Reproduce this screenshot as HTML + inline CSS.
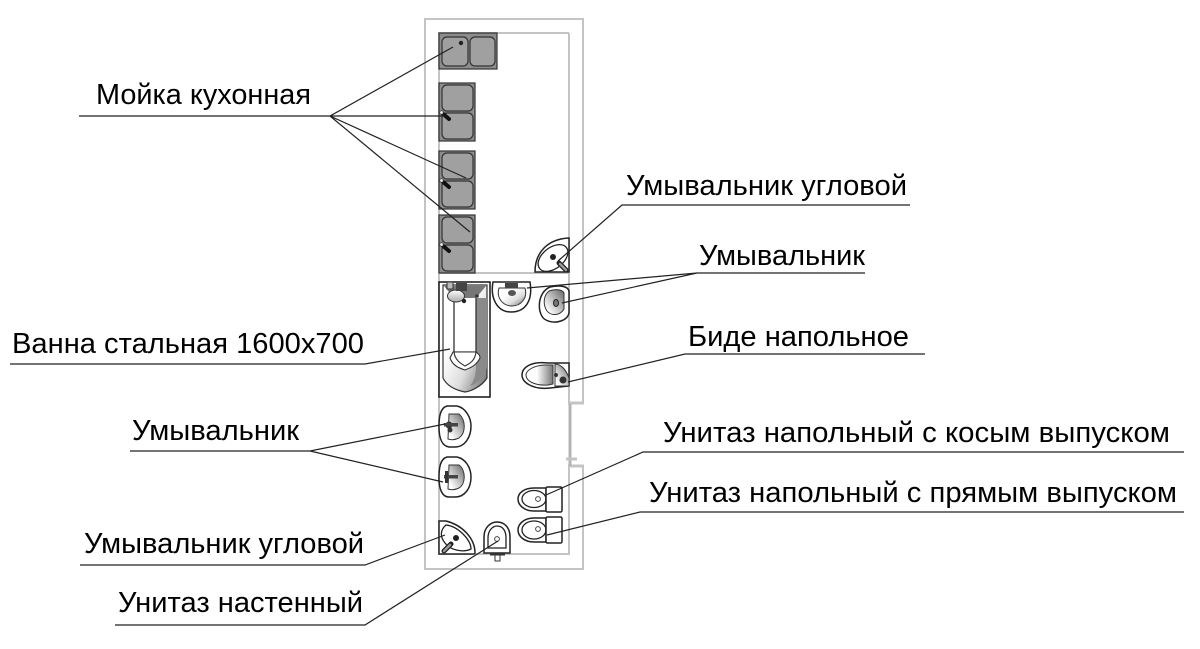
<!DOCTYPE html>
<html><head><meta charset="utf-8"><style>
html,body{margin:0;padding:0;background:#fff;width:1200px;height:649px;overflow:hidden}
svg{display:block}
text{font-family:"Liberation Sans",sans-serif;font-size:28.5px;fill:#000}
.l{stroke:#222;stroke-width:1.2;fill:none}
.w{stroke:#c4c4c4;stroke-width:2;fill:none}
.o{stroke:#222;stroke-width:1.5;fill:#fff}
.b{stroke:#222;stroke-width:1.3;fill:none}
.s{fill:#a0a0a0;stroke:#333;stroke-width:1.2}
.p{fill:#8c8c8c;stroke:#333;stroke-width:1.2}
</style></head><body>
<svg width="1200" height="649" viewBox="0 0 1200 649" xmlns="http://www.w3.org/2000/svg">
<defs>
<linearGradient id="g" x1="0" y1="0" x2="1" y2="1"><stop offset="0.35" stop-color="#fff"/><stop offset="0.65" stop-color="#ddd"/><stop offset="1" stop-color="#666"/></linearGradient>
<linearGradient id="g2" x1="1" y1="0" x2="0" y2="1"><stop offset="0" stop-color="#666"/><stop offset="0.55" stop-color="#ccc"/><stop offset="0.85" stop-color="#fff"/></linearGradient>
<linearGradient id="g3" x1="0" y1="0" x2="1" y2="0"><stop offset="0.4" stop-color="#fff"/><stop offset="1" stop-color="#777"/></linearGradient>
<linearGradient id="g4" x1="0" y1="0" x2="0" y2="1"><stop offset="0" stop-color="#fff"/><stop offset="1" stop-color="#aaa"/></linearGradient>
<g id="sink">
<rect x="0" y="0" width="36" height="58" class="p"/>
<rect x="3" y="2" width="31" height="26" rx="5" class="s"/>
<rect x="3" y="30" width="31" height="26" rx="5" class="s"/>
<line x1="3" y1="30" x2="10" y2="36" stroke="#111" stroke-width="4" stroke-linecap="round"/>
<circle cx="2.5" cy="29.5" r="1.8" fill="#eee" stroke="#444" stroke-width="0.8"/>
</g>
</defs>

<!-- walls -->
<path class="w" d="M583 403V19H425V569H583V466"/>
<path class="w" d="M569 33V404M569 466V554H439V33H569"/>
<line x1="439" y1="273" x2="569" y2="273" class="w"/>
<path d="M568 403H584M568 466H584" stroke="#c4c4c4" stroke-width="3" fill="none"/>
<line x1="570" y1="404" x2="570" y2="466" stroke="#b4b4b4" stroke-width="3"/>
<path d="M566 459H577" stroke="#c4c4c4" stroke-width="3" fill="none"/>

<!-- kitchen sinks -->
<rect x="439" y="33" width="58" height="36" class="p"/>
<rect x="442" y="37" width="26" height="29" rx="5" class="s"/>
<rect x="470" y="37" width="25" height="29" rx="5" class="s"/>
<circle cx="461" cy="43" r="2.2" fill="#222"/>
<use href="#sink" x="439" y="83"/>
<use href="#sink" x="439" y="151"/>
<use href="#sink" x="439" y="215"/>

<!-- corner basin top -->
<path class="o" d="M569 238C548 239 535 252 535 272H569Z"/>
<ellipse cx="553" cy="258" rx="17" ry="10.5" transform="rotate(-38 553 258)" class="b"/>
<circle cx="553" cy="257" r="3" fill="#222"/>
<line x1="559" y1="263" x2="566" y2="270" stroke="#222" stroke-width="5" stroke-linecap="round"/>
<line x1="560" y1="264" x2="566" y2="270" stroke="#999" stroke-width="2.5" stroke-linecap="round"/>

<!-- bath -->
<rect x="439" y="282" width="51" height="115" fill="#fff" stroke="#222" stroke-width="1.6"/>
<path d="M443 285H487V378C482 386 472 391 465 392C455 390 447 386 443 378Z" fill="url(#g)" stroke="#333" stroke-width="1.2"/>
<path d="M476 298H487V368C484 378 477 384 470 386C476 378 476 372 476 360Z" fill="#8a8a8a"/>
<path d="M444 286H486L476 298H454Z" fill="#777"/>
<path d="M454 298V352H476V298" fill="#fff" stroke="#333" stroke-width="1.3"/>
<path d="M450 358C454 350 453 352 454 352H476C478 354 480 354 480 358C476 366 470 368 465 370C459 368 453 366 450 358Z" fill="#fff" stroke="#333" stroke-width="1.1"/>
<path d="M454 352C455 360 460 363 465 366C471 363 475 360 476 352Z" fill="#fff" stroke="#333" stroke-width="1.1"/>
<ellipse cx="456" cy="296" rx="8.5" ry="6" fill="url(#g4)" stroke="#333"/>
<rect x="447" y="282" width="6" height="7" fill="#bbb" stroke="#333"/>
<rect x="456" y="283" width="11" height="8" fill="#444"/>
<circle cx="464" cy="301" r="2.2" fill="#222"/>
<circle cx="477" cy="296" r="1.8" fill="#333"/>

<!-- basin top middle -->
<path class="o" d="M493 282H530C533 300 526 312 511 312C497 312 490 298 493 282Z"/>
<path d="M499 288H525C528 298 521 306 512 306C503 306 496 298 499 288Z" fill="url(#g)" stroke="#333"/>
<rect x="505" y="283" width="13" height="5" fill="#444"/>
<ellipse cx="512" cy="293" rx="4" ry="3" fill="#555"/>

<!-- basin right -->
<path class="o" d="M550 287C560 285 569 286 569 292V312C569 320 556 325 546 320C537 316 536 293 550 287Z"/>
<path d="M549 291C555 289 562 289 564 293V309C560 316 551 316 547 311C543 305 543 296 549 291Z" fill="url(#g2)" stroke="#333"/>
<ellipse cx="556" cy="303" rx="2.5" ry="3.5" fill="#777" stroke="#222"/>

<!-- bidet -->
<path class="o" d="M569 363H548C530 361 522 368 522 375C522 382 532 390 550 388L569 386Z"/>
<path d="M553 365H544C532 366 526 371 526 375C526 381 535 386 548 385L553 384Z" fill="url(#g3)" stroke="#333"/>
<path d="M555 364C562 364 567 372 569 378V386H555Z" fill="url(#g2)" stroke="#333"/>
<circle cx="556" cy="375" r="2" fill="#333"/>
<circle cx="563" cy="380" r="3.5" fill="#333"/>

<!-- left basins -->
<path class="o" d="M447 406H457C466 408 471 418 471 426C471 437 465 447 455 447H449C442 446 439 438 439 427C439 417 440 408 447 406Z"/>
<path d="M449 414H459C466 420 466 433 459 438C455 440 451 440 448 439Z" fill="url(#g2)" stroke="#333"/>
<circle cx="449" cy="425" r="3.5" fill="#333"/><rect x="444" y="423" width="14" height="3.5" fill="#444"/><circle cx="450" cy="430" r="2.5" fill="#333"/>
<path class="o" d="M447 457H457C466 459 471 468 471 477C471 488 465 497 455 497H449C442 497 439 489 439 478C439 468 440 459 447 457Z"/>
<path d="M449 465H459C466 470 466 484 459 488C455 490 451 490 448 489Z" fill="url(#g2)" stroke="#333"/>
<rect x="444" y="475" width="14" height="3.5" fill="#444"/><rect x="445" y="471" width="3" height="12" fill="#333"/>

<!-- corner basin bottom -->
<path class="o" d="M439 521H446C462 525 475 538 475 553C475 554 473 554 472 554H439Z"/>
<path class="b" d="M446 525C458 526 471 540 471 549C463 553 450 550 445 543C440 537 440 530 446 525Z"/>
<circle cx="456" cy="538" r="3" fill="#222"/>
<line x1="451" y1="544" x2="444" y2="551" stroke="#222" stroke-width="5" stroke-linecap="round"/>
<line x1="450" y1="545" x2="444" y2="551" stroke="#999" stroke-width="2.5" stroke-linecap="round"/>

<!-- wall toilet -->
<path class="o" d="M484 553V537C484 527 491 522 497 522C505 522 510 528 510 537V553Z"/>
<path class="b" d="M488 548V538C488 530 493 526 497 526C503 526 506 531 506 538V548Z"/>
<circle cx="497" cy="539" r="2.4" fill="#fff" stroke="#444"/>
<path d="M495 555H500V561H495Z" fill="#fff" stroke="#333"/>
<rect x="490" y="553" width="15" height="2.5" fill="#333"/>

<!-- floor toilets -->
<path class="o" d="M546 488H534C524 488 518 493 518 499C518 505 524 511 534 511H546Z"/>
<ellipse cx="534" cy="499" rx="12" ry="8.5" class="b"/>
<circle cx="538" cy="499" r="2.4" fill="#fff" stroke="#444"/>
<rect x="546" y="487" width="16" height="25" rx="1.5" class="o"/>
<path class="o" d="M546 518H534C524 518 518 524 518 530C518 536 524 542 534 542H546Z"/>
<ellipse cx="534" cy="530" rx="12" ry="9" class="b"/>
<circle cx="538" cy="529" r="2.4" fill="#fff" stroke="#444"/>
<rect x="546" y="517" width="16" height="26" rx="1.5" class="o"/>

<!-- leaders -->
<path class="l" d="M79 116H330L453 47M330 116H445M330 116L466 178M330 116L470 232"/>
<path class="l" d="M910 205H622L558 261"/>
<path class="l" d="M865 273H697L527 288M697 273L562 303"/>
<path class="l" d="M925 354H685L568 382"/>
<path class="l" d="M10 364H365L450 349"/>
<path class="l" d="M1184 452H643L546 495"/>
<path class="l" d="M1184 512H640L547 535"/>
<path class="l" d="M130 451H310L445 424M310 451L443 482"/>
<path class="l" d="M80 565H365L445 535"/>
<path class="l" d="M115 625H365L498 541"/>

<!-- labels -->
<text x="96" y="104" textLength="215" lengthAdjust="spacingAndGlyphs">Мойка кухонная</text>
<text x="626" y="195" textLength="281" lengthAdjust="spacingAndGlyphs">Умывальник угловой</text>
<text x="699" y="265" textLength="166" lengthAdjust="spacingAndGlyphs">Умывальник</text>
<text x="688" y="346" textLength="221" lengthAdjust="spacingAndGlyphs">Биде напольное</text>
<text x="12" y="353" textLength="352" lengthAdjust="spacingAndGlyphs">Ванна стальная 1600х700</text>
<text x="132" y="440" textLength="167" lengthAdjust="spacingAndGlyphs">Умывальник</text>
<text x="663" y="442" textLength="507" lengthAdjust="spacingAndGlyphs">Унитаз напольный с косым выпуском</text>
<text x="649" y="502" textLength="528" lengthAdjust="spacingAndGlyphs">Унитаз напольный с прямым выпуском</text>
<text x="84" y="553" textLength="280" lengthAdjust="spacingAndGlyphs">Умывальник угловой</text>
<text x="118" y="612" textLength="245" lengthAdjust="spacingAndGlyphs">Унитаз настенный</text>
</svg>
</body></html>
